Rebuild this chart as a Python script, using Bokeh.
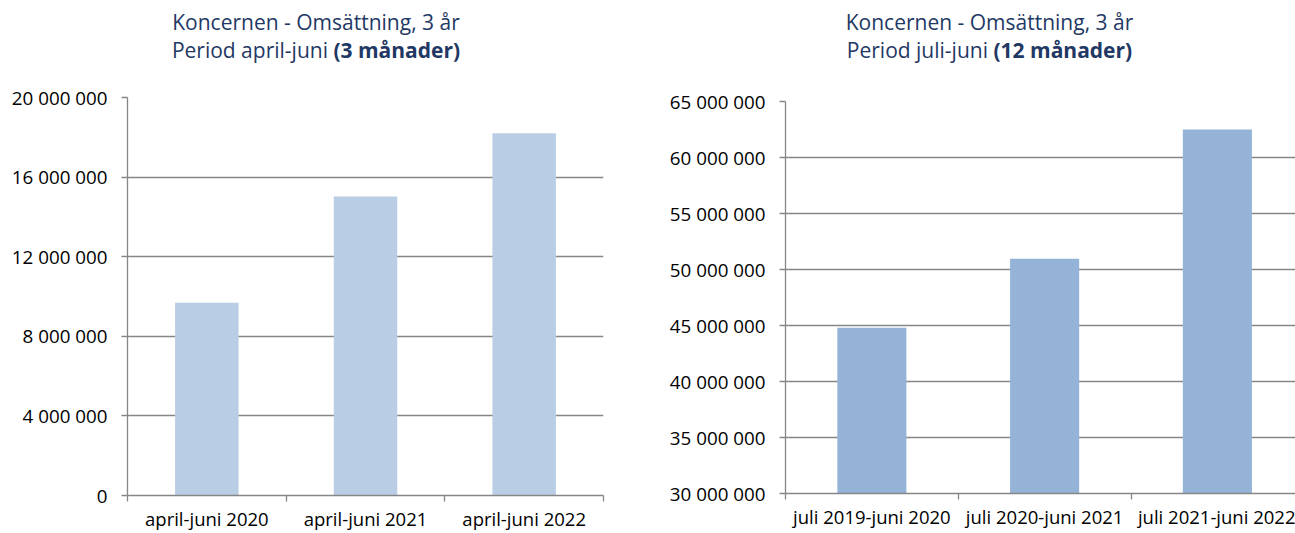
from bokeh.plotting import figure
from bokeh.models import FixedTicker, Div
from bokeh.layouts import row, column
from bokeh.embed import file_html
from bokeh.resources import INLINE

# ---- data ----
left_categories = ["april-juni 2020", "april-juni 2021", "april-juni 2022"]
left_values = [9_680_000, 15_020_000, 18_200_000]
left_yticks = [0, 4_000_000, 8_000_000, 12_000_000, 16_000_000, 20_000_000]

right_categories = ["juli 2019-juni 2020", "juli 2020-juni 2021", "juli 2021-juni 2022"]
right_values = [44_800_000, 50_950_000, 62_500_000]
right_yticks = [30_000_000, 35_000_000, 40_000_000, 45_000_000, 50_000_000,
                55_000_000, 60_000_000, 65_000_000]

FONT = "Open Sans"
GRID = "#868686"
TITLE_COLOR = "#1F3864"
TICK_FONT_SIZE = "18.8px"
XLABEL_FONT_SIZE = "18.5px"


def fmt(v):
    return f"{v:,}".replace(",", " ")


def make_title(line1, line2a, line2b, width, shift):
    html = (
        f'<div style="font-family:\'{FONT}\'; font-size:21px; color:{TITLE_COLOR}; '
        f'text-align:center; line-height:28px; width:{width}px; padding-top:8px; '
        f'transform:translateX({shift}px); white-space:nowrap;">'
        f'{line1}<br>{line2a} <b>{line2b}</b></div>'
    )
    return Div(text=html, width=width, height=80, margin=0)


def make_chart(categories, values, yticks, color, width, height,
               b_left, b_right, b_top, b_bottom, x_end):
    xs = [i + 1 for i in range(len(categories))]
    p = figure(width=width, height=height, output_backend="svg",
               toolbar_location=None, x_range=(0.5, x_end),
               y_range=(yticks[0], yticks[-1]),
               min_border_left=b_left, min_border_right=b_right,
               min_border_top=b_top, min_border_bottom=b_bottom)
    p.vbar(x=xs, top=values, bottom=yticks[0], width=0.4,
           fill_color=color, line_color=None)

    p.outline_line_color = None
    p.background_fill_color = "white"
    p.border_fill_color = "white"
    p.xgrid.visible = False
    p.ygrid.ticker = FixedTicker(ticks=yticks)
    p.ygrid.grid_line_color = GRID
    p.ygrid.grid_line_width = 1.3

    ya = p.yaxis[0]
    ya.ticker = FixedTicker(ticks=yticks)
    ya.major_label_overrides = {t: fmt(t) for t in yticks}
    ya.axis_line_color = GRID
    ya.axis_line_width = 1.3
    ya.major_tick_line_color = GRID
    ya.major_tick_line_width = 1.3
    ya.major_tick_out = 6
    ya.major_tick_in = 0
    ya.minor_tick_line_color = None
    ya.major_label_standoff = 14
    ya.major_label_text_font = FONT
    ya.major_label_text_font_size = TICK_FONT_SIZE
    ya.major_label_text_color = "black"

    xa = p.xaxis[0]
    xa.ticker = FixedTicker(ticks=xs, minor_ticks=[x - 0.5 for x in xs] + [xs[-1] + 0.5])
    xa.major_label_overrides = {x: c for x, c in zip(xs, categories)}
    xa.axis_line_color = GRID
    xa.axis_line_width = 1.3
    xa.major_tick_line_color = None
    xa.major_tick_out = 0
    xa.major_tick_in = 0
    xa.minor_tick_line_color = GRID
    xa.minor_tick_line_width = 1.3
    xa.minor_tick_out = 6
    xa.minor_tick_in = 0
    xa.major_label_standoff = 4
    xa.major_label_text_font = FONT
    xa.major_label_text_font_size = XLABEL_FONT_SIZE
    xa.major_label_text_color = "black"
    return p


t1 = make_title("Koncernen - Omsättning, 3 år", "Period april-juni", "(3 månader)", 640, -4)
p1 = make_chart(left_categories, left_values, left_yticks, "#B9CDE5",
                640, 453, 127, 37, 17, 35, 3.5)

t2 = make_title("Koncernen - Omsättning, 3 år", "Period juli-juni", "(12 månader)", 655, 22)
p2 = make_chart(right_categories, right_values, right_yticks, "#95B3D7",
                655, 453, 145, 0, 21, 40, 0.5 + 510 / 172.75)

layout = row(column(t1, p1, spacing=0), column(t2, p2, spacing=0), spacing=0)

open("out.html", "w").write(file_html(layout, INLINE))
